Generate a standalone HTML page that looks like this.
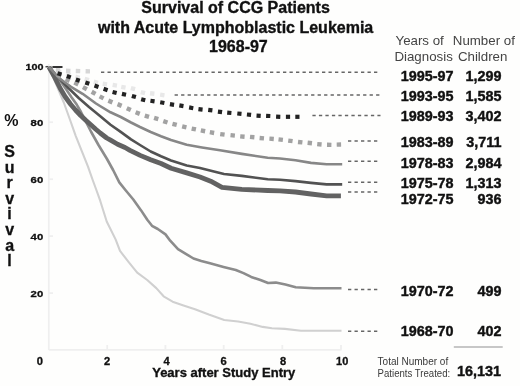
<!DOCTYPE html>
<html><head><meta charset="utf-8">
<style>
html,body{margin:0;padding:0;background:#fff;}
body{width:520px;height:386px;overflow:hidden;}
svg{display:block;}
text{font-family:"Liberation Sans",Arial,sans-serif;}
.b{font-weight:bold;fill:#111;stroke:#111;stroke-width:0.35;}
.hd{font-size:13.3px;fill:#444;}
.rl{font-size:14.4px;font-weight:bold;fill:#111;stroke:#111;stroke-width:0.4;}
.ax{font-size:10.5px;font-weight:bold;fill:#111;stroke:#111;stroke-width:0.3;}
.sv{font-size:16px;font-weight:bold;fill:#111;stroke:#111;stroke-width:0.3;}
.cn{fill:none;stroke:#666;stroke-width:1.5;stroke-dasharray:3.3 3.2;}
.c{fill:none;stroke-linejoin:round;stroke-linecap:butt;}
.sq{fill:none;stroke-linejoin:miter;stroke-linecap:butt;}
</style></head>
<body>
<svg width="520" height="386" viewBox="0 0 520 386">
<rect width="520" height="386" fill="#fefefd"/>

<!-- title -->
<g class="b" font-size="16" text-anchor="middle">
<text x="235.6" y="13.2">Survival of CCG Patients</text>
<text x="235.6" y="32.9">with Acute Lymphoblastic Leukemia</text>
<text x="238.4" y="52.2">1968-97</text>
</g>

<!-- headers -->
<text class="hd" x="395.5" y="45">Years of</text>
<text class="hd" x="394.4" y="60.5">Diagnosis</text>
<text class="hd" x="452.8" y="45">Number of</text>
<text class="hd" x="457.9" y="60.5">Children</text>

<!-- axes -->
<g stroke="#efefef" stroke-width="1.8" fill="none">
<line x1="48.8" y1="64" x2="48.8" y2="350"/>
<line x1="48.8" y1="349.8" x2="341.5" y2="349.8"/>
<line x1="49" y1="122.2" x2="53" y2="122.2"/>
<line x1="49" y1="179.2" x2="53" y2="179.2"/>
<line x1="49" y1="236.1" x2="53" y2="236.1"/>
<line x1="49" y1="293.1" x2="53" y2="293.1"/>
<line x1="107.2" y1="345" x2="107.2" y2="349.8"/>
<line x1="165.4" y1="345" x2="165.4" y2="349.8"/>
<line x1="223.7" y1="345" x2="223.7" y2="349.8"/>
<line x1="282.3" y1="345" x2="282.3" y2="349.8"/>
<line x1="341" y1="345" x2="341" y2="349.8"/>
</g>
<line x1="45.5" y1="66.7" x2="48.5" y2="66.7" stroke="#444" stroke-width="1.5"/>

<!-- axis labels -->
<g class="ax" text-anchor="end" style="font-size:9.7px">
<text x="43.4" y="69.7" textLength="18" lengthAdjust="spacingAndGlyphs">100</text>
<text x="43.2" y="126.4" textLength="12.6" lengthAdjust="spacingAndGlyphs">80</text>
<text x="43.2" y="183.4" textLength="12.6" lengthAdjust="spacingAndGlyphs">60</text>
<text x="43.2" y="240.3" textLength="12.6" lengthAdjust="spacingAndGlyphs">40</text>
<text x="43.2" y="297.3" textLength="12.6" lengthAdjust="spacingAndGlyphs">20</text>
</g>
<g class="ax" text-anchor="middle" style="font-size:10.1px">
<text x="39.9" y="364.9" textLength="6.2" lengthAdjust="spacingAndGlyphs">0</text>
<text x="107.2" y="364.9" textLength="6.2" lengthAdjust="spacingAndGlyphs">2</text>
<text x="166.5" y="364.9" textLength="6.2" lengthAdjust="spacingAndGlyphs">4</text>
<text x="223.6" y="364.9" textLength="6.2" lengthAdjust="spacingAndGlyphs">6</text>
<text x="283" y="364.9" textLength="6.2" lengthAdjust="spacingAndGlyphs">8</text>
<text x="342.2" y="364.9" textLength="12.2" lengthAdjust="spacingAndGlyphs">10</text>
</g>
<text class="b" font-size="13" x="152.2" y="376.9">Years after Study Entry</text>

<g class="sv" text-anchor="middle">
<text x="11.3" y="126.3" style="stroke-width:0">%</text>
<text x="9.6" y="157">S</text>
<text x="9.6" y="172.6">u</text>
<text x="9.6" y="188.2">r</text>
<text x="9.6" y="203.8">v</text>
<text x="9.6" y="219.4">i</text>
<text x="9.6" y="235">v</text>
<text x="9.6" y="250.6">a</text>
<text x="9.6" y="266.2">l</text>
</g>

<!-- connectors -->
<line class="cn" x1="101" y1="72.2" x2="378.6" y2="72.2"/>
<line class="cn" x1="174.6" y1="95.1" x2="380" y2="95.1"/>
<line class="cn" x1="312.4" y1="115.6" x2="380.5" y2="115.6"/>
<line class="cn" x1="348" y1="140.9" x2="378" y2="140.9"/>
<line class="cn" x1="348" y1="161.3" x2="378" y2="161.3"/>
<line class="cn" x1="348" y1="182.3" x2="378" y2="182.3"/>
<line class="cn" x1="348" y1="192.1" x2="378" y2="192.1"/>
<line class="cn" x1="348" y1="289.4" x2="378" y2="289.4"/>
<line class="cn" x1="348" y1="331.3" x2="378" y2="331.3"/>

<!-- curves -->
<polyline class="c" stroke="#d0d0d0" stroke-width="2.1" points="49,67 56,84 63.8,102.5 70.1,120 75.6,135.6 81.8,151.1 88,166.7 92.7,180 96,189 100.2,200.7 106.7,221.5 115.7,239.6 120,250.9 129.1,262.7 137.2,272.7 147.2,280 156.3,288.1 163.6,296.3 172.6,301.7 183.5,305.4 195,309.2 208.8,314.6 224.2,320 238.1,321.5 250.4,323.8 262.7,326.9 271.9,328.2 285,328.9 300.9,330.7 341.5,330.7"/><polyline class="c" stroke="#8c8c8c" stroke-width="2.6" points="49,67 58,77.5 65.3,88 71.5,97.3 76.7,104.6 81,112 85,120 91.2,132 98.5,145 107,159 113.1,170 119.3,182.4 125.6,190.2 133.3,199.5 141.1,210.4 147.3,219.8 152,225.8 157.8,229 165.5,234.4 170.2,240.7 178,249.2 185.8,253.9 193.5,258.5 201.3,260.9 210,263.2 223.5,266.9 235.8,270 243.5,273.1 251.2,276.9 260.4,280 268.1,283 275.8,282.6 285.4,284.6 295.7,287.2 313.9,288.2 341.5,288.2"/><polyline class="c" stroke="#626262" stroke-width="4.8" points="49,67 54,76 60,88 65,96.5 70.4,104 75.5,110 80.7,115.5 86,120.5 91.1,125 95.5,129 100.2,133 106.7,138 110.6,140.2 117.6,144.3 125,147.5 130,150.4 140.2,155.4 150.7,159.7 161,163.5 171.1,168.2 186.7,172.9 200,177 210.7,181.2 222,187.3 241.8,189.4 267.7,190.5 280,190.9 295.5,192 311,194 326.6,195.8 340.9,195.8"/><polyline class="c" stroke="#525252" stroke-width="2.6" points="49,67 58,77 68.4,88 78.7,98 89,107 100,116 110.5,124.7 120.7,131.9 131,139.4 140,145 150.7,151.5 161,156.3 171,160.5 186.7,165.5 200,168 215.9,172 224,174 241.8,175.9 267.7,179.2 280,179.8 295.5,181.1 311,182.9 326.6,184.4 342.2,184.4"/><polyline class="c" stroke="#878787" stroke-width="2.6" points="49,67 59.5,78.5 71,86.8 82.6,93.8 96,103.5 100,106 110.5,112.3 120.8,117 131,122.5 140,127 150.7,132 161,136.2 171,140 186.7,144.8 202,147.5 220,150.3 241.8,153.9 267.7,157.7 280,158.5 295.5,160.3 311,162.9 326.6,164.2 342.2,164.2"/>
<!-- dotted -->
<g fill="#a2a2a2"><rect x="56.80" y="73.30" width="4.4" height="4.4" transform="rotate(28.1 59.00 75.50)"/><rect x="65.40" y="77.90" width="4.4" height="4.4" transform="rotate(24.8 67.60 80.10)"/><rect x="74.10" y="81.30" width="4.4" height="4.4" transform="rotate(25.1 76.30 83.50)"/><rect x="82.70" y="86.00" width="4.4" height="4.4" transform="rotate(28.3 84.90 88.20)"/><rect x="91.40" y="90.60" width="4.4" height="4.4" transform="rotate(28.9 93.60 92.80)"/><rect x="99.40" y="95.20" width="4.4" height="4.4" transform="rotate(27.4 101.60 97.40)"/><rect x="108.20" y="99.30" width="4.4" height="4.4" transform="rotate(22.9 110.40 101.50)"/><rect x="117.40" y="102.80" width="4.4" height="4.4" transform="rotate(22.7 119.60 105.00)"/><rect x="126.60" y="107.00" width="4.4" height="4.4" transform="rotate(24.1 128.80 109.20)"/><rect x="135.50" y="110.90" width="4.4" height="4.4" transform="rotate(21.1 137.70 113.10)"/><rect x="144.70" y="114.00" width="4.4" height="4.4" transform="rotate(16.3 146.90 116.20)"/><rect x="154.00" y="116.30" width="4.4" height="4.4" transform="rotate(16.8 156.20 118.50)"/><rect x="163.20" y="119.60" width="4.4" height="4.4" transform="rotate(17.8 165.40 121.80)"/><rect x="172.40" y="122.20" width="4.4" height="4.4" transform="rotate(14.8 174.60 124.40)"/><rect x="182.10" y="124.60" width="4.4" height="4.4" transform="rotate(13.5 184.30 126.80)"/><rect x="191.60" y="126.80" width="4.4" height="4.4" transform="rotate(12.1 193.80 129.00)"/><rect x="200.80" y="128.60" width="4.4" height="4.4" transform="rotate(11.2 203.00 130.80)"/><rect x="209.80" y="130.40" width="4.4" height="4.4" transform="rotate(10.5 212.00 132.60)"/><rect x="220.20" y="132.20" width="4.4" height="4.4" transform="rotate(7.7 222.40 134.40)"/><rect x="230.50" y="133.20" width="4.4" height="4.4" transform="rotate(6.3 232.70 135.40)"/><rect x="240.20" y="134.40" width="4.4" height="4.4" transform="rotate(5.0 242.40 136.60)"/><rect x="250.00" y="134.90" width="4.4" height="4.4" transform="rotate(4.7 252.20 137.10)"/><rect x="259.60" y="136.00" width="4.4" height="4.4" transform="rotate(5.0 261.80 138.20)"/><rect x="269.40" y="136.60" width="4.4" height="4.4" transform="rotate(4.2 271.60 138.80)"/><rect x="278.50" y="137.40" width="4.4" height="4.4" transform="rotate(6.4 280.70 139.60)"/><rect x="288.20" y="138.70" width="4.4" height="4.4" transform="rotate(7.6 290.40 140.90)"/><rect x="298.00" y="140.00" width="4.4" height="4.4" transform="rotate(6.2 300.20 142.20)"/><rect x="307.60" y="140.80" width="4.4" height="4.4" transform="rotate(6.2 309.80 143.00)"/><rect x="317.20" y="142.10" width="4.4" height="4.4" transform="rotate(5.3 319.40 144.30)"/><rect x="327.00" y="142.60" width="4.4" height="4.4" transform="rotate(0.9 329.20 144.80)"/><rect x="336.70" y="142.40" width="4.4" height="4.4" transform="rotate(-1.2 338.90 144.60)"/></g><g fill="#e8e8e8"><rect x="56.80" y="69.80" width="4.4" height="4.4" transform="rotate(15.6 59.00 72.00)"/><rect x="66.10" y="72.40" width="4.4" height="4.4" transform="rotate(15.7 68.30 74.60)"/><rect x="75.30" y="75.00" width="4.4" height="4.4" transform="rotate(14.8 77.50 77.20)"/><rect x="84.60" y="77.30" width="4.4" height="4.4" transform="rotate(15.5 86.80 79.50)"/><rect x="93.70" y="80.10" width="4.4" height="4.4" transform="rotate(14.3 95.90 82.30)"/><rect x="102.70" y="81.90" width="4.4" height="4.4" transform="rotate(8.7 104.90 84.10)"/><rect x="112.60" y="83.00" width="4.4" height="4.4" transform="rotate(9.8 114.80 85.20)"/><rect x="121.20" y="85.10" width="4.4" height="4.4" transform="rotate(10.6 123.40 87.30)"/><rect x="130.80" y="86.40" width="4.4" height="4.4" transform="rotate(15.2 133.00 88.60)"/><rect x="140.70" y="90.40" width="4.4" height="4.4" transform="rotate(14.3 142.90 92.60)"/><rect x="150.00" y="91.30" width="4.4" height="4.4" transform="rotate(7.1 152.20 93.50)"/><rect x="160.10" y="92.80" width="4.4" height="4.4" transform="rotate(8.4 162.30 95.00)"/></g><g fill="#d6d6d6"><rect x="55.80" y="68.10" width="4.4" height="4.4" transform="rotate(3.4 58.00 70.30)"/><rect x="66.00" y="68.70" width="4.4" height="4.4" transform="rotate(2.3 68.20 70.90)"/><rect x="75.80" y="68.90" width="4.4" height="4.4" transform="rotate(1.2 78.00 71.10)"/><rect x="85.60" y="69.10" width="4.4" height="4.4" transform="rotate(1.2 87.80 71.30)"/></g><g fill="#222"><rect x="57.40" y="71.70" width="4.2" height="4.2" transform="rotate(17.3 59.50 73.80)"/><rect x="66.70" y="74.60" width="4.2" height="4.2" transform="rotate(19.0 68.80 76.70)"/><rect x="75.70" y="78.00" width="4.2" height="4.2" transform="rotate(19.1 77.80 80.10)"/><rect x="85.20" y="81.00" width="4.2" height="4.2" transform="rotate(18.1 87.30 83.10)"/><rect x="94.40" y="84.10" width="4.2" height="4.2" transform="rotate(19.3 96.50 86.20)"/><rect x="103.50" y="87.40" width="4.2" height="4.2" transform="rotate(19.2 105.60 89.50)"/><rect x="112.50" y="90.40" width="4.2" height="4.2" transform="rotate(14.6 114.60 92.50)"/><rect x="121.90" y="92.20" width="4.2" height="4.2" transform="rotate(11.7 124.00 94.30)"/><rect x="131.80" y="94.40" width="4.2" height="4.2" transform="rotate(16.0 133.90 96.50)"/><rect x="141.10" y="97.70" width="4.2" height="4.2" transform="rotate(13.9 143.20 99.80)"/><rect x="150.40" y="99.00" width="4.2" height="4.2" transform="rotate(8.3 152.50 101.10)"/><rect x="160.20" y="100.50" width="4.2" height="4.2" transform="rotate(9.9 162.30 102.60)"/><rect x="169.90" y="102.40" width="4.2" height="4.2" transform="rotate(9.2 172.00 104.50)"/><rect x="179.30" y="103.60" width="4.2" height="4.2" transform="rotate(9.8 181.40 105.70)"/><rect x="189.10" y="105.70" width="4.2" height="4.2" transform="rotate(10.7 191.20 107.80)"/><rect x="198.40" y="107.20" width="4.2" height="4.2" transform="rotate(6.9 200.50 109.30)"/><rect x="208.20" y="108.00" width="4.2" height="4.2" transform="rotate(7.6 210.30 110.10)"/><rect x="217.90" y="109.80" width="4.2" height="4.2" transform="rotate(8.1 220.00 111.90)"/><rect x="227.20" y="110.70" width="4.2" height="4.2" transform="rotate(5.3 229.30 112.80)"/><rect x="237.30" y="111.60" width="4.2" height="4.2" transform="rotate(5.5 239.40 113.70)"/><rect x="246.90" y="112.60" width="4.2" height="4.2" transform="rotate(6.2 249.00 114.70)"/><rect x="256.50" y="113.70" width="4.2" height="4.2" transform="rotate(3.6 258.60 115.80)"/><rect x="266.10" y="113.80" width="4.2" height="4.2" transform="rotate(2.9 268.20 115.90)"/><rect x="276.10" y="114.70" width="4.2" height="4.2" transform="rotate(2.6 278.20 116.80)"/><rect x="285.90" y="114.70" width="4.2" height="4.2" transform="rotate(0.0 288.00 116.80)"/><rect x="295.30" y="114.70" width="4.2" height="4.2" transform="rotate(0.0 297.40 116.80)"/></g>
<line x1="52.4" y1="67" x2="62.5" y2="67" stroke="#333" stroke-width="2"/>

<!-- right labels -->
<g class="rl">
<text x="400.8" y="80.7">1995-97</text>
<text x="400.8" y="100.7">1993-95</text>
<text x="400.8" y="120.5">1989-93</text>
<text x="400.8" y="146.7">1983-89</text>
<text x="400.8" y="168.1">1978-83</text>
<text x="400.8" y="188.1">1975-78</text>
<text x="400.8" y="203.7">1972-75</text>
<text x="400.8" y="295.9">1970-72</text>
<text x="400.8" y="336">1968-70</text>
</g>
<g class="rl" text-anchor="end">
<text x="501.5" y="80.7">1,299</text>
<text x="501.5" y="100.7">1,585</text>
<text x="501.5" y="120.5">3,402</text>
<text x="501.5" y="146.7">3,711</text>
<text x="501.5" y="168.1">2,984</text>
<text x="501.5" y="188.1">1,313</text>
<text x="501.5" y="203.7">936</text>
<text x="501.5" y="295.9">499</text>
<text x="501.5" y="336">402</text>
</g>

<line x1="453.8" y1="347" x2="502.7" y2="347" stroke="#b4b4b4" stroke-width="1.5"/>
<text font-size="10" fill="#3a3a3a" x="377.6" y="364.9">Total Number of</text>
<text font-size="10" fill="#3a3a3a" x="377.6" y="376.7" textLength="72.6" lengthAdjust="spacingAndGlyphs">Patients Treated:</text>
<text class="rl" text-anchor="end" x="501" y="375.7">16,131</text>
</svg>
</body></html>
